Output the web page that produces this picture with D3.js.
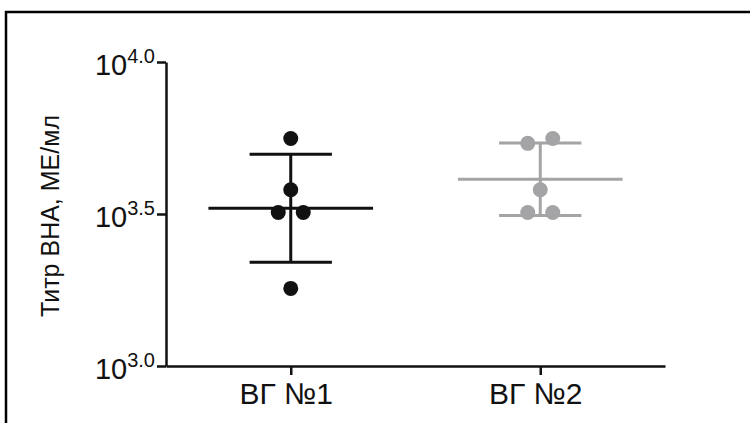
<!DOCTYPE html>
<html>
<head>
<meta charset="utf-8">
<script src="https://cdn.jsdelivr.net/npm/d3@7"></script>
<style>
  html, body { margin: 0; padding: 0; background: #fff; }
  svg { display: block; }
  text { font-family: "Liberation Sans", Arial, sans-serif; fill: #111; }
</style>
</head>
<body>
<svg id="chart"></svg>
<script>
// Данные (титры, МЕ/мл)
const groups = ["ВГ №1", "ВГ №2"];
const colors = ["#111111", "#a4a4a6"];
const titers1 = [5600, 3800, 3200, 3200, 1800];
const titers2 = [5400, 5600, 3800, 3200, 3200];
const tickExponents = [3.0, 3.5, 4.0];
const yTitle = "Титр ВНА, МЕ/мл";

const width = 750;
const height = 423;
const margin = { top: 62, right: 85, bottom: 57, left: 166 };

const svg = d3.select("#chart")
    .attr("width", width)
    .attr("height", height);

// рамка
svg.append("rect")
    .attr("x", 6)
    .attr("y", 12)
    .attr("width", width + 20)
    .attr("height", height + 20)
    .attr("fill", "none")
    .attr("stroke", "#000")
    .attr("stroke-width", 2.5);

const x = d3.scalePoint()
    .domain(groups)
    .range([margin.left, width - margin.right])
    .padding(0.5);

const y = d3.scaleLog()
    .domain([1000, 10000])
    .range([height - margin.bottom, margin.top]);

const step = x.step();
const r = 7.5;

// ось Y
const yAxis = svg.append("g")
    .attr("transform", `translate(${margin.left},0)`)
    .call(d3.axisLeft(y)
        .tickValues(tickExponents.map(e => Math.pow(10, e)))
        .tickSize(9)
        .tickSizeOuter(0)
        .tickFormat(""));

// ось X
const xAxis = svg.append("g")
    .attr("transform", `translate(0,${height - margin.bottom})`)
    .call(d3.axisBottom(x).tickSize(9).tickSizeOuter(0));

[yAxis, xAxis].forEach(g => {
    g.selectAll(".domain, line").attr("stroke", "#111").attr("stroke-width", 2.5);
});

xAxis.selectAll("text")
    .attr("y", 38)
    .attr("dy", 0)
    .attr("x", -5)
    .attr("dominant-baseline", "alphabetic")
    .style("font-family", "Liberation Sans, Arial, sans-serif")
    .style("font-size", "30px")
    .attr("fill", "#111");

// подписи 10^x
tickExponents.forEach(e => {
    const t = svg.append("text")
        .attr("x", margin.left - 11)
        .attr("y", y(Math.pow(10, e)) + 13)
        .attr("text-anchor", "end");
    t.append("tspan").style("font-size", "29px").text("10");
    t.append("tspan").style("font-size", "20px").attr("dy", -12).text(e.toFixed(1));
});

// заголовок оси Y
svg.append("text")
    .attr("transform", `translate(50,216) rotate(-90)`)
    .attr("text-anchor", "middle")
    .attr("dominant-baseline", "central")
    .style("font-size", "25px")
    .text(yTitle);

// смещения точек (простая раскладка как в Prism)
function spread(values) {
    const items = values.map(v => ({ v, py: y(v) })).sort((a, b) => b.py - a.py);
    const rows = [];
    items.forEach(it => {
        const row = rows.find(rw => Math.abs(rw[0].py - it.py) < 2 * r + 2);
        if (row) row.push(it); else rows.push([it]);
    });
    rows.forEach(row => {
        row.sort((a, b) => a.v - b.v);
        row.forEach((it, i) => { it.dx = (i - (row.length - 1) / 2) * 25; });
    });
    return items;
}

[titers1, titers2].forEach((vals, gi) => {
    const cx = x(groups[gi]);
    const logs = vals.map(v => Math.log10(v));
    const m = d3.mean(logs);
    const sd = d3.deviation(logs);
    const g = svg.append("g").attr("stroke", colors[gi]).attr("fill", colors[gi]);

    g.append("line")
        .attr("x1", cx).attr("x2", cx)
        .attr("y1", y(Math.pow(10, m + sd))).attr("y2", y(Math.pow(10, m - sd)))
        .attr("stroke-width", 3);
    [m + sd, m - sd].forEach(v => {
        g.append("line")
            .attr("x1", cx - step * 0.165).attr("x2", cx + step * 0.165)
            .attr("y1", y(Math.pow(10, v))).attr("y2", y(Math.pow(10, v)))
            .attr("stroke-width", 3);
    });
    g.append("line")
        .attr("x1", cx - step * 0.33).attr("x2", cx + step * 0.33)
        .attr("y1", y(Math.pow(10, m))).attr("y2", y(Math.pow(10, m)))
        .attr("stroke-width", 3);

    g.selectAll("circle")
        .data(spread(vals))
        .join("circle")
        .attr("cx", d => cx + d.dx)
        .attr("cy", d => d.py)
        .attr("r", r)
        .attr("stroke", "none");
});
</script>
</body>
</html>
